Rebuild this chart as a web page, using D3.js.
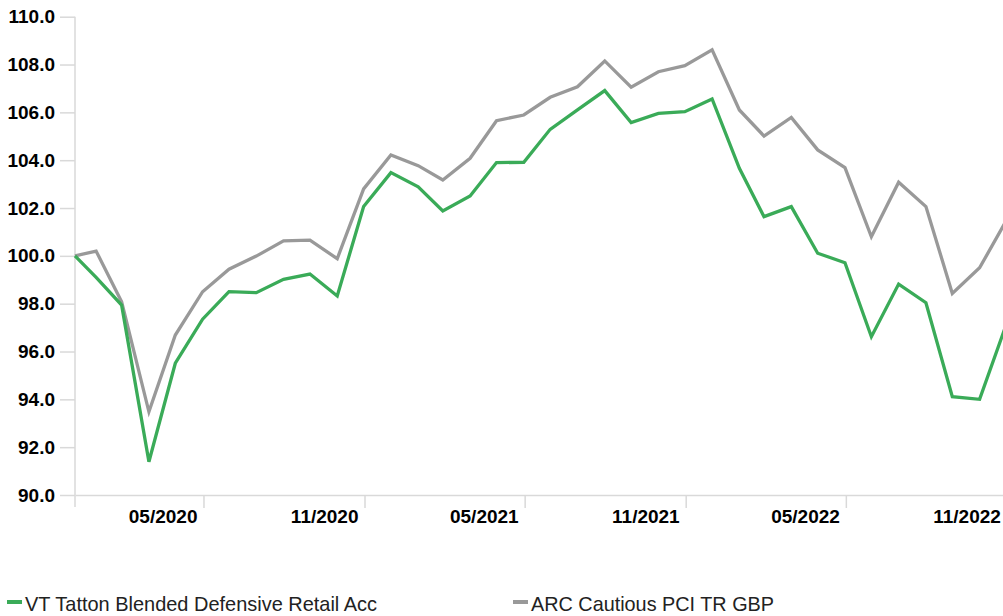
<!DOCTYPE html>
<html>
   <head>
        <meta charset="utf-8">
        <script src="https://cdnjs.cloudflare.com/ajax/libs/d3/7.8.5/d3.min.js"></script>
        <style>
            body { margin: 0; background: #fff; overflow: hidden; }
            svg { display: block; font-family: "Liberation Sans", Arial, sans-serif; }
        </style>
    </head>
   <body>
        <svg width="1003" height="616"></svg>
        <script>
            // data points: start date then month ends
            const dates = ["2020-01-07", "2020-01-31", "2020-02-29", "2020-03-31", "2020-04-30", "2020-05-31",
                           "2020-06-30", "2020-07-31", "2020-08-31", "2020-09-30", "2020-10-31", "2020-11-30",
                           "2020-12-31", "2021-01-31", "2021-02-28", "2021-03-31", "2021-04-30", "2021-05-31",
                           "2021-06-30", "2021-07-31", "2021-08-31", "2021-09-30", "2021-10-31", "2021-11-30",
                           "2021-12-31", "2022-01-31", "2022-02-28", "2022-03-31", "2022-04-30", "2022-05-31",
                           "2022-06-30", "2022-07-31", "2022-08-31", "2022-09-30", "2022-10-31", "2022-11-30"];

            const tatton = [100.0, 99.1, 97.94, 91.39, 95.51, 97.35, 98.50, 98.46, 99.02, 99.24, 98.32, 102.06,
                            103.48, 102.89, 101.88, 102.50, 103.90, 103.91, 105.29, 106.10, 106.91, 105.57, 105.96, 106.03,
                            106.56, 103.66, 101.64, 102.06, 100.11, 99.71, 96.62, 98.82, 98.04, 94.11, 94.00, 97.1];

            const arc = [100.0, 100.2, 98.08, 93.48, 96.69, 98.50, 99.44, 99.99, 100.63, 100.66, 99.88, 102.80,
                         104.22, 103.77, 103.17, 104.08, 105.65, 105.89, 106.63, 107.07, 108.15, 107.05, 107.70, 107.95,
                         108.61, 106.10, 105.01, 105.79, 104.43, 103.69, 100.80, 103.08, 102.06, 98.43, 99.50, 101.45];

            const seriesNames = ["VT Tatton Blended Defensive Retail Acc", "ARC Cautious PCI TR GBP"];
            const seriesColors = ["#3aab58", "#999999"];

            const xTickDates = ["2020-06-01", "2020-12-01", "2021-06-01", "2021-12-01", "2022-06-01", "2022-12-01"];
            const xTickLabels = ["05/2020", "11/2020", "05/2021", "11/2021", "05/2022", "11/2022"];
            const yTicks = [90, 92, 94, 96, 98, 100, 102, 104, 106, 108, 110];

            const parse = d3.timeParse("%Y-%m-%d");
            const axisColor = "#d9d9d9";

            let svg = d3.select("svg");

            let x = d3.scaleTime()
                      .domain([parse(dates[0]), parse(dates[dates.length - 1])])
                      .range([75, 1006]);

            let y = d3.scaleLinear()
                      .domain([90, 110])
                      .range([495, 16.7]);

            // y axis
            let yAxis = svg.append("g")
                           .attr("transform", "translate(75,0)")
                           .call(d3.axisLeft(y).tickValues(yTicks).tickSize(15).tickPadding(5)
                                   .tickFormat(d3.format(".1f")));
            yAxis.select(".domain").remove();
            yAxis.selectAll(".tick line").attr("stroke", axisColor).attr("stroke-width", 1.5);
            yAxis.selectAll(".tick text")
                 .attr("fill", "#000")
                 .attr("font-size", 19)
                 .attr("font-weight", "bold")
                 .attr("font-family", "Liberation Sans, Arial, sans-serif");

            svg.append("line")
               .attr("x1", 75).attr("x2", 75)
               .attr("y1", y(110)).attr("y2", 507)
               .attr("stroke", axisColor)
               .attr("stroke-width", 1.5);

            // x axis
            let xAxis = svg.append("g")
                           .attr("transform", `translate(0,${y(90)})`)
                           .call(d3.axisBottom(x).tickValues(xTickDates.map(parse)).tickSize(13)
                                   .tickSizeOuter(0)
                                   .tickFormat((d, i) => xTickLabels[i]));
            xAxis.select(".domain").attr("stroke", axisColor).attr("stroke-width", 1.5);
            xAxis.selectAll(".tick line").attr("stroke", axisColor).attr("stroke-width", 1.5);
            xAxis.selectAll(".tick text")
                 .attr("fill", "#000")
                 .attr("font-size", 19)
                 .attr("font-weight", "bold")
                 .attr("font-family", "Liberation Sans, Arial, sans-serif")
                 .attr("text-anchor", "end")
                 .attr("x", -6.5)
                 .attr("y", 28)
                 .attr("dy", 0);

            // lines
            const rows = dates.map((d, i) => ({ date: parse(d), values: [tatton[i], arc[i]] }));
            let line = (k) => d3.line().x(d => x(d.date)).y(d => y(d.values[k]));

            [1, 0].forEach((k) => {
                svg.append("path")
                   .datum(rows)
                   .attr("fill", "none")
                   .attr("stroke", seriesColors[k])
                   .attr("stroke-width", 3.3)
                   .attr("stroke-linejoin", "miter")
                   .attr("d", line(k));
            });

            // legend
            const legendX = [7, 513];
            const legendWidths = [352, 243];
            let legend = svg.append("g");
            seriesNames.forEach((name, i) => {
                legend.append("line")
                      .attr("x1", legendX[i]).attr("x2", legendX[i] + 15)
                      .attr("y1", 602).attr("y2", 602)
                      .attr("stroke", seriesColors[i])
                      .attr("stroke-width", 4);
                legend.append("text")
                      .text(name)
                      .attr("x", legendX[i] + 18)
                      .attr("y", 611)
                      .attr("font-size", 21)
                      .attr("fill", "#222")
                      .attr("textLength", legendWidths[i])
                      .attr("lengthAdjust", "spacingAndGlyphs");
            });
        </script>
   </body>
</html>
